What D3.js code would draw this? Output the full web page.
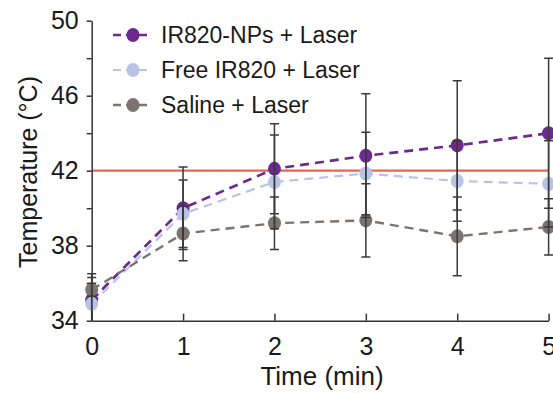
<!DOCTYPE html>
<html><head><meta charset="utf-8">
<script src="https://cdn.jsdelivr.net/npm/d3@7"></script>
<style>
html,body{margin:0;padding:0;background:#fff;}
svg{display:block;font-family:"Liberation Sans",Arial,sans-serif;}
</style></head>
<body><svg id="c" width="553" height="393"></svg>
<script>
const times = [0, 1, 2, 3, 4, 5];
const xTickLabels = ["0", "1", "2", "3", "4", "5"];
const yTicks = [34, 36, 38, 40, 42, 44, 46, 48, 50];
const yTickLabels = [34, 38, 42, 46, 50];
const threshold = 42;

const seriesNames = ["IR820-NPs + Laser", "Free IR820 + Laser", "Saline + Laser"];
const npsMean = [35.1, 40.0, 42.1, 42.8, 43.35, 44.0];
const npsErr = [1.4, 2.2, 2.4, 3.3, 3.45, 4.0];
const freeMean = [34.9, 39.7, 41.4, 41.85, 41.45, 41.3];
const freeErr = [1.4, 1.8, 2.5, 2.2, 2.15, 2.3];
const salineMean = [35.65, 38.65, 39.2, 39.35, 38.5, 39.0];
const salineErr = [0.35, 1.45, 1.4, 1.95, 2.1, 1.5];
const colors = ["#6d2a8e", "#b9c3e5", "#7b7470"];

const series = [
  {name: seriesNames[0], mean: npsMean, err: npsErr, color: colors[0], w: 2.7},
  {name: seriesNames[1], mean: freeMean, err: freeErr, color: colors[1], w: 2.2},
  {name: seriesNames[2], mean: salineMean, err: salineErr, color: colors[2], w: 2.4}
];

const svg = d3.select("#c");
const x = d3.scaleLinear().domain([0, 5]).range([91.7, 548.6]);
const y = d3.scaleLinear().domain([34, 50]).range([320.7, 20.7]);

svg.append("defs").append("clipPath").attr("id", "clip")
  .append("rect").attr("x", 80).attr("y", 20).attr("width", 480).attr("height", 300.7);

// threshold line
svg.append("line")
  .attr("x1", x(0)).attr("x2", x(5))
  .attr("y1", y(threshold)).attr("y2", y(threshold))
  .attr("stroke", "#e5674f").attr("stroke-width", 2.2);

const axisColor = "#333";
// Y axis
const gy = svg.append("g").attr("transform", `translate(${x(0)},0)`)
  .call(d3.axisLeft(y).tickValues(yTicks).tickSizeInner(5).tickSizeOuter(0).tickPadding(8)
    .tickFormat(d => yTickLabels.includes(d) ? String(d) : ""));
// X axis
const gx = svg.append("g").attr("transform", `translate(0,${y(34)})`)
  .call(d3.axisBottom(x).tickValues(times).tickSizeInner(-7).tickSizeOuter(0).tickPadding(17)
    .tickFormat((d, i) => xTickLabels[i]));
[gx, gy].forEach(g => {
  g.selectAll("path,line").attr("stroke", axisColor).attr("stroke-width", 1.5);
  g.selectAll("text").attr("fill", "#1a1a1a").style("font-size", "25px")
    .style("font-family", '"Liberation Sans",Arial,sans-serif');
});

// axis titles
svg.append("text").attr("x", 322).attr("y", 385).attr("text-anchor", "middle")
  .style("font-size", "26px").attr("fill", "#1a1a1a").text("Time (min)");
svg.append("text").attr("transform", "translate(37,172) rotate(-90)").attr("text-anchor", "middle")
  .style("font-size", "25px").attr("fill", "#1a1a1a").text("Temperature (°C)");

// lines & markers
const line = d3.line().x((d, i) => x(times[i])).y(d => y(d));
const plot = svg.append("g");
series.forEach(s => {
  plot.append("path").datum(s.mean).attr("d", line)
    .attr("fill", "none").attr("stroke", s.color).attr("stroke-width", s.w)
    .attr("stroke-dasharray", "9,6");
});
series.forEach(s => {
  plot.selectAll(null).data(s.mean).enter().append("ellipse")
    .attr("cx", (d, i) => x(times[i])).attr("cy", d => y(d))
    .attr("rx", 6.5).attr("ry", 7).attr("fill", s.color);
});

// error bars
const eb = svg.append("g").attr("clip-path", "url(#clip)");
series.forEach(s => {
  s.mean.forEach((m, i) => {
    const cx = x(times[i]);
    const top = y(m + s.err[i]), bot = y(m - s.err[i]);
    eb.append("line").attr("x1", cx).attr("x2", cx).attr("y1", top).attr("y2", bot)
      .attr("stroke", "#3a3a3a").attr("stroke-width", 1.5);
    [top, bot].forEach(yy => eb.append("line").attr("x1", cx - 4.5).attr("x2", cx + 4.5)
      .attr("y1", yy).attr("y2", yy).attr("stroke", "#3a3a3a").attr("stroke-width", 1.5));
  });
});

// legend
const legY = [35, 70, 105];
series.forEach((s, i) => {
  const g = svg.append("g").attr("transform", `translate(0,${legY[i]})`);
  g.append("line").attr("x1", 113).attr("x2", 152).attr("y1", 0).attr("y2", 0)
    .attr("stroke", s.color).attr("stroke-width", s.w).attr("stroke-dasharray", "8,5");
  g.append("ellipse").attr("cx", 133).attr("cy", 0).attr("rx", 6.5).attr("ry", 7).attr("fill", s.color);
  g.append("text").attr("x", 161).attr("y", 8).style("font-size", "23px").attr("fill", "#1a1a1a").text(s.name);
});
</script></body></html>
